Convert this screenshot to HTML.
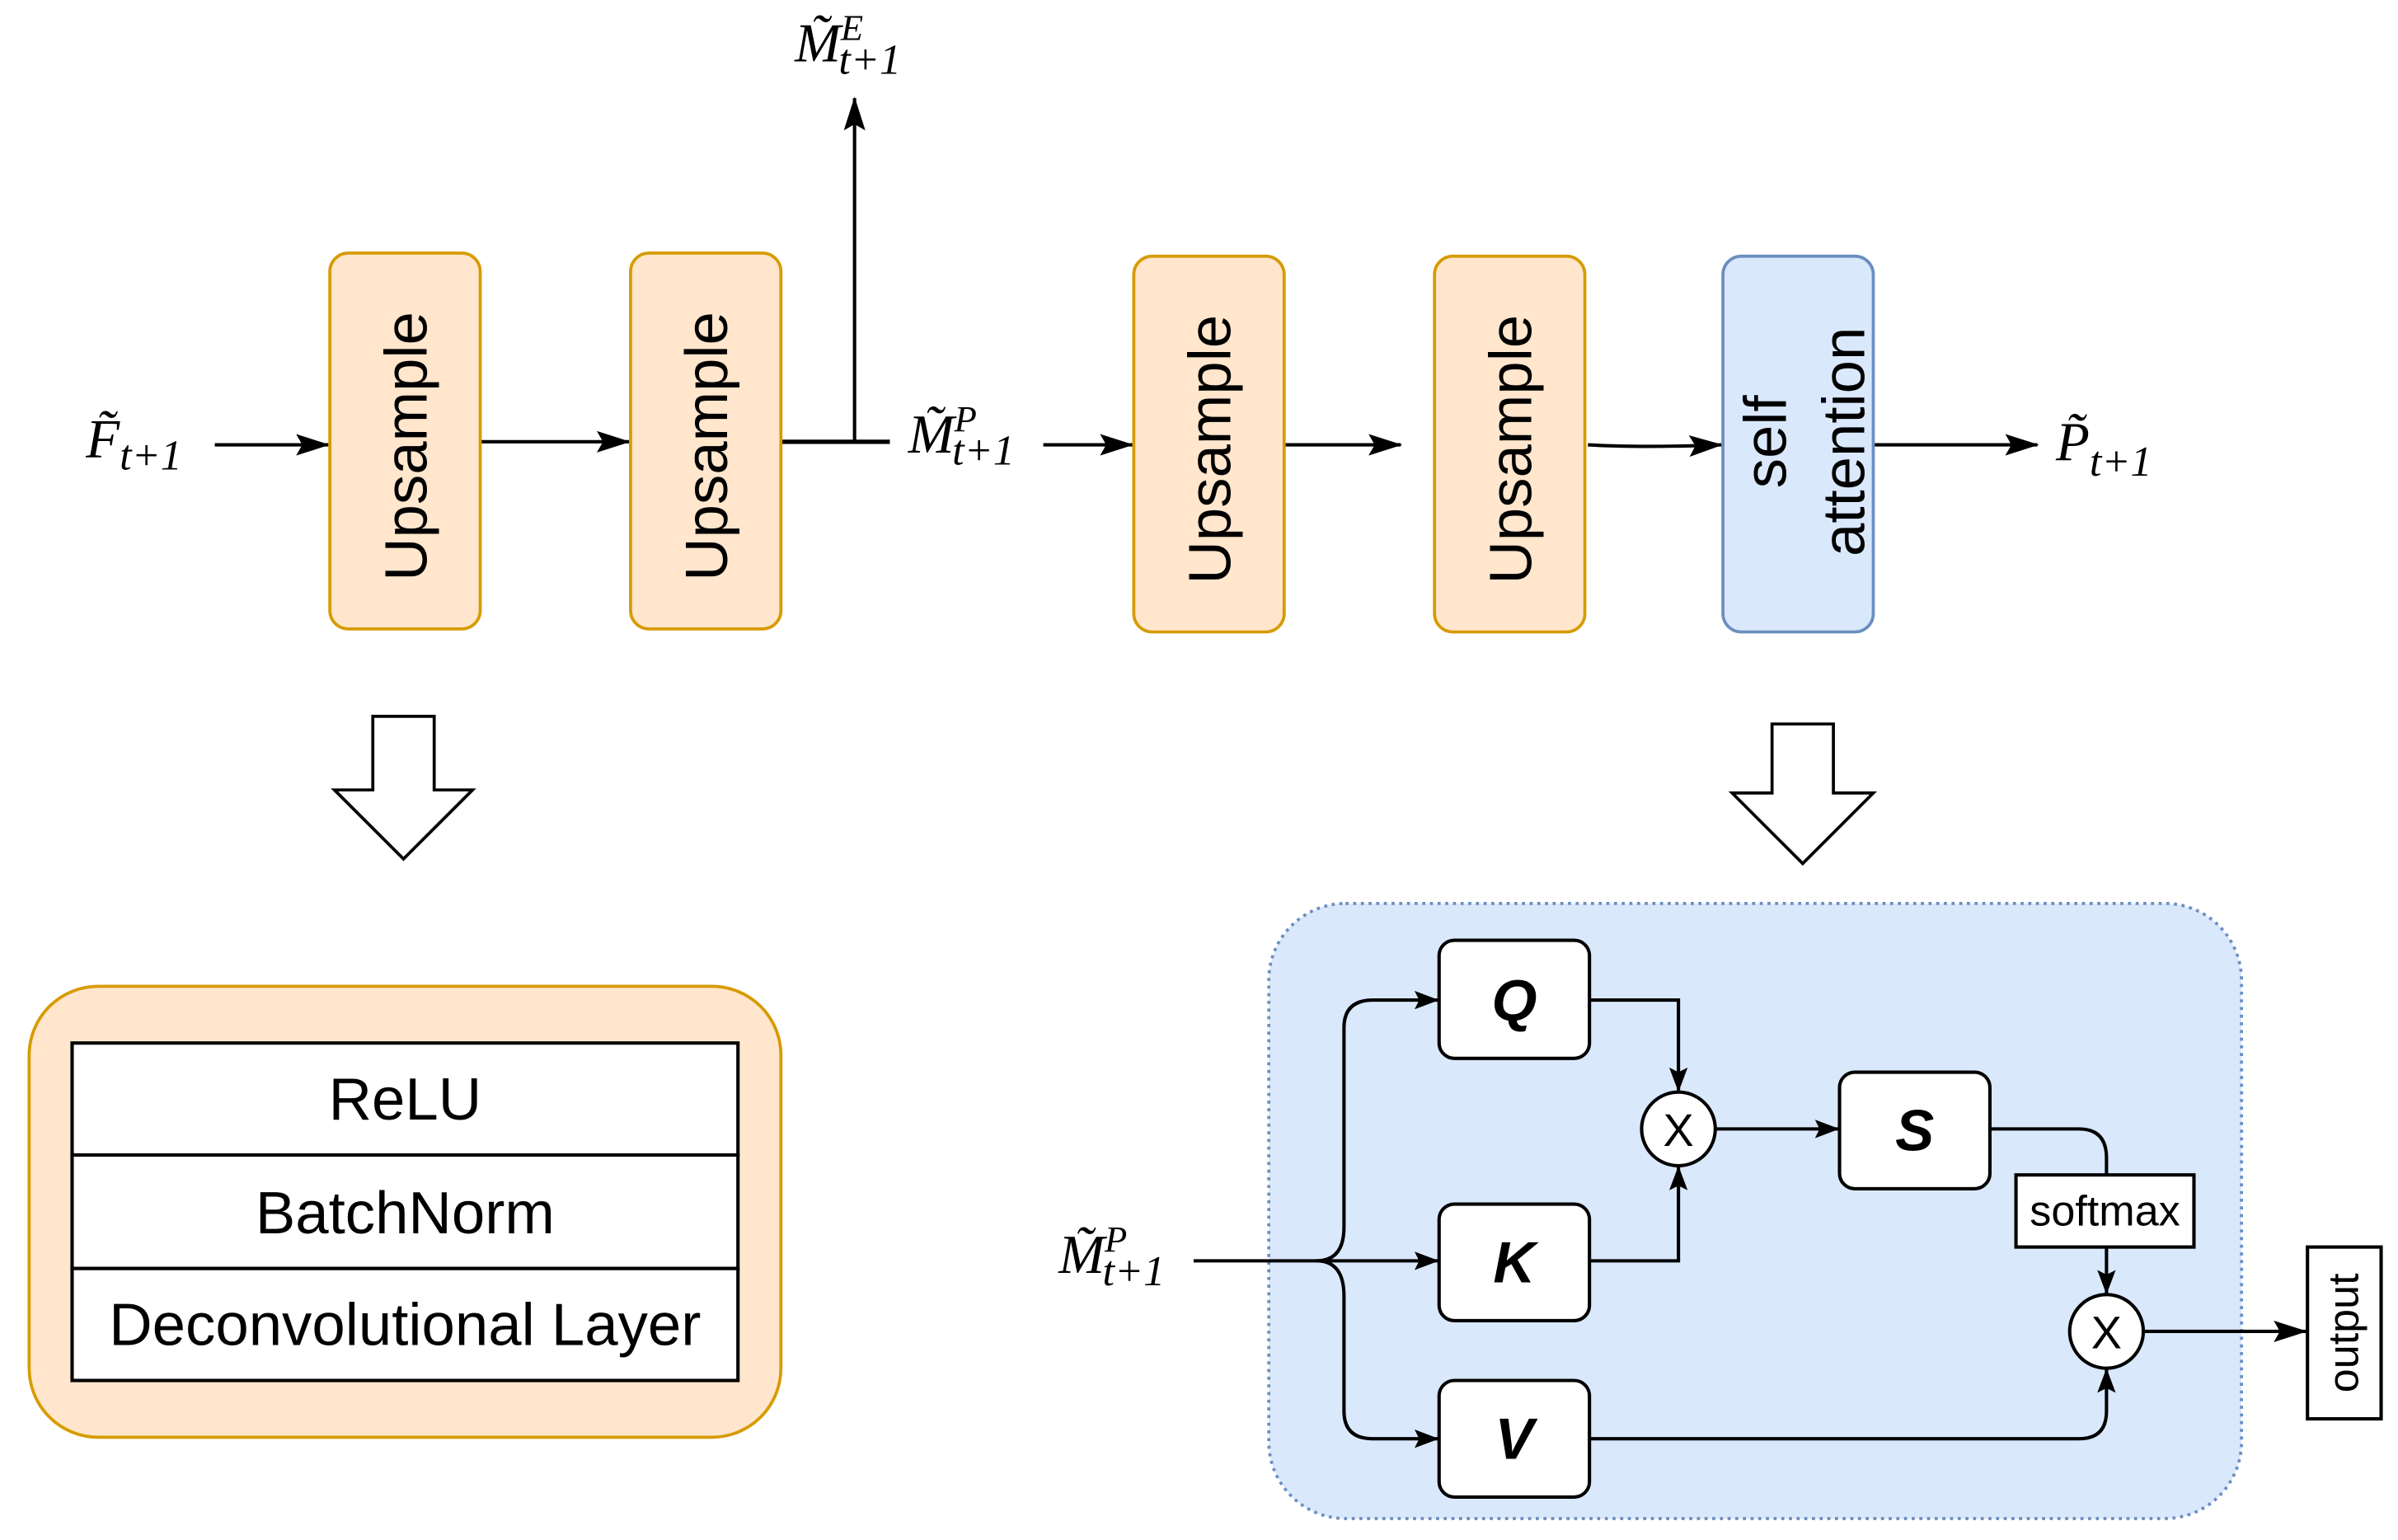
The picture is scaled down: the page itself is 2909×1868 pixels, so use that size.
<!DOCTYPE html>
<html><head><meta charset="utf-8"><style>
html,body{margin:0;padding:0;background:#fff;width:2909px;height:1868px;overflow:hidden}
svg{display:block}
.m{font-family:"Liberation Serif",serif;font-style:italic}
.s{font-family:"Liberation Sans",sans-serif}
</style></head><body>
<svg width="2909" height="1868" viewBox="0 0 1563 1004" preserveAspectRatio="none" xmlns="http://www.w3.org/2000/svg">
<defs>
<marker id="a" markerWidth="16" markerHeight="12" refX="15" refY="6" orient="auto" markerUnits="userSpaceOnUse">
<path d="M0,0 L16,6 L0,12 L3,6 Z" fill="#000"/></marker>
<marker id="b" markerWidth="22" markerHeight="14" refX="21" refY="7" orient="auto" markerUnits="userSpaceOnUse">
<path d="M0,0 L22,7 L0,14 L4,7 Z" fill="#000"/></marker>
</defs>
<g stroke="#000" stroke-width="2.2" fill="none">
<line x1="140" y1="290" x2="214" y2="290" marker-end="url(#b)"/>
<line x1="313" y1="288" x2="410" y2="288" marker-end="url(#b)"/>
<line x1="509" y1="288" x2="580" y2="288" stroke-width="2.8"/>
<line x1="557" y1="288" x2="557" y2="64" marker-end="url(#b)"/>
<line x1="680" y1="290" x2="738" y2="290" marker-end="url(#b)"/>
<line x1="837" y1="290" x2="913" y2="290" marker-end="url(#b)"/>
<path d="M1035,290 Q1070,292 1122,290" marker-end="url(#b)"/>
<line x1="1221" y1="290" x2="1328" y2="290" marker-end="url(#b)"/>
</g>
<g fill="#ffe6cc" stroke="#d79b00" stroke-width="2">
<rect x="215" y="165" width="98" height="245" rx="12"/>
<rect x="411" y="165" width="98" height="245" rx="12"/>
<rect x="739" y="167" width="98" height="245" rx="12"/>
<rect x="935" y="167" width="98" height="245" rx="12"/>
</g>
<rect x="1123" y="167" width="98" height="245" rx="12" fill="#dae8fc" stroke="#6c8ebf" stroke-width="2"/>
<g class="s" font-size="39" text-anchor="middle">
<text transform="translate(278,291) rotate(-90)">Upsample</text>
<text transform="translate(474,291) rotate(-90)">Upsample</text>
<text transform="translate(802,293) rotate(-90)">Upsample</text>
<text transform="translate(998,293) rotate(-90)">Upsample</text>
<text transform="translate(1164,288) rotate(-90)">self</text>
<text transform="translate(1215,288) rotate(-90)">attention</text>
</g>
<g class="m" font-size="36">
<text x="56" y="298">F̃<tspan font-size="28" dy="8">t+1</tspan></text>
<text x="518" y="40">M̃<tspan font-size="24" dy="-14">E</tspan><tspan font-size="28" dy="22" dx="-16">t+1</tspan></text>
<text x="592" y="295">M̃<tspan font-size="24" dy="-14">P</tspan><tspan font-size="28" dy="22" dx="-16">t+1</tspan></text>
<text x="1340" y="300">P̃<tspan font-size="28" dy="10">t+1</tspan></text>
<text x="690" y="830">M̃<tspan font-size="24" dy="-14">P</tspan><tspan font-size="28" dy="22" dx="-16">t+1</tspan></text>
</g>
<g fill="#fff" stroke="#000" stroke-width="2">
<path d="M243,467 H283 V515 H308 L263,560 L218,515 H243 Z"/>
<path d="M1155,472 H1195 V517 H1221 L1175,563 L1129,517 H1155 Z"/>
</g>
<rect x="19" y="643" width="490" height="294" rx="45" fill="#ffe6cc" stroke="#d79b00" stroke-width="2"/>
<g fill="#fff" stroke="#000" stroke-width="2.2">
<rect x="47" y="680" width="434" height="73"/>
<rect x="47" y="753" width="434" height="74"/>
<rect x="47" y="827" width="434" height="73"/>
</g>
<g class="s" font-size="39" text-anchor="middle">
<text x="264" y="730">ReLU</text>
<text x="264" y="804">BatchNorm</text>
<text x="264" y="877">Deconvolutional Layer</text>
</g>
<rect x="827" y="589" width="634" height="401" rx="50" fill="#dae8fc" stroke="#6c8ebf" stroke-width="2" stroke-dasharray="2,3"/>
<g stroke="#000" stroke-width="2.2" fill="none">
<line x1="778" y1="822" x2="937" y2="822" marker-end="url(#a)"/>
<path d="M858,822 Q876,822 876,800 V670 Q876,652 895,652 H937" marker-end="url(#a)"/>
<path d="M858,822 Q876,822 876,845 V920 Q876,938 895,938 H937" marker-end="url(#a)"/>
<path d="M1036,652 H1094 V711" marker-end="url(#a)"/>
<path d="M1036,822 H1094 V761" marker-end="url(#a)"/>
<line x1="1118" y1="736" x2="1198" y2="736" marker-end="url(#a)"/>
<path d="M1297,736 H1355 Q1373,736 1373,755 V766"/>
<line x1="1373" y1="813" x2="1373" y2="843" marker-end="url(#a)"/>
<path d="M1036,938 H1355 Q1373,938 1373,920 V893" marker-end="url(#a)"/>
<line x1="1397" y1="868" x2="1503" y2="868" marker-end="url(#b)"/>
</g>
<g fill="#fff" stroke="#000" stroke-width="2.2">
<rect x="938" y="613" width="98" height="77" rx="10"/>
<rect x="938" y="785" width="98" height="76" rx="10"/>
<rect x="938" y="900" width="98" height="76" rx="10"/>
<rect x="1199" y="699" width="98" height="76" rx="10"/>
<circle cx="1094" cy="736" r="24"/>
<circle cx="1373" cy="868" r="24"/>
<rect x="1314" y="766" width="116" height="47"/>
<rect x="1504" y="813" width="48" height="112"/>
</g>
<g class="s" font-weight="bold" font-style="italic" font-size="38" text-anchor="middle">
<text x="987" y="665">Q</text>
<text x="987" y="836">K</text>
<text x="987" y="951">V</text>
<text x="1248" y="750">S</text>
</g>
<g class="s" text-anchor="middle">
<text x="1094" y="747" font-size="30">X</text>
<text x="1373" y="879" font-size="30">X</text>
<text x="1372" y="799" font-size="28">softmax</text>
<text transform="translate(1537,869) rotate(-90)" font-size="28">output</text>
</g>
</svg>
</body></html>
